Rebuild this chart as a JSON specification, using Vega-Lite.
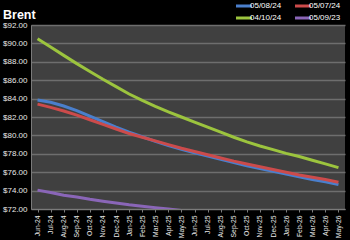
{
  "$schema": "https://vega.github.io/schema/vega-lite/v6.json",
  "width": 314,
  "height": 184,
  "autosize": {"type": "none"},
  "padding": {"left": 31, "top": 25, "right": 5, "bottom": 31},
  "background": "#000000",
  "title": {"text": "Brent", "anchor": "start", "frame": "group", "dx": -28, "dy": 37, "offset": 8, "baseline": "alphabetic", "color": "#ffffff", "font": "Liberation Sans", "fontSize": 12.5, "fontWeight": "bold"},
  "config": {
    "view": {"fill": "#404040", "stroke": null},
    "axis": {"labelFont": "Liberation Sans", "labelColor": "#e8e8e8", "domainColor": "#7a7a7a", "gridColor": "#6e6e6e", "gridWidth": 1.5, "tickColor": "#7a7a7a"}
  },
  "data": {"values": [
    {"month":"Jun-24","series":"05/08/24","price":83.85},{"month":"Jul-24","series":"05/08/24","price":83.6},{"month":"Aug-24","series":"05/08/24","price":83.2},{"month":"Sep-24","series":"05/08/24","price":82.7},{"month":"Oct-24","series":"05/08/24","price":82.1},{"month":"Nov-24","series":"05/08/24","price":81.5},{"month":"Dec-24","series":"05/08/24","price":80.9},{"month":"Jan-25","series":"05/08/24","price":80.35},{"month":"Feb-25","series":"05/08/24","price":79.85},{"month":"Mar-25","series":"05/08/24","price":79.35},{"month":"Apr-25","series":"05/08/24","price":78.9},{"month":"May-25","series":"05/08/24","price":78.5},{"month":"Jun-25","series":"05/08/24","price":78.1},{"month":"Jul-25","series":"05/08/24","price":77.75},{"month":"Aug-25","series":"05/08/24","price":77.4},{"month":"Sep-25","series":"05/08/24","price":77.05},{"month":"Oct-25","series":"05/08/24","price":76.7},{"month":"Nov-25","series":"05/08/24","price":76.4},{"month":"Dec-25","series":"05/08/24","price":76.1},{"month":"Jan-26","series":"05/08/24","price":75.8},{"month":"Feb-26","series":"05/08/24","price":75.5},{"month":"Mar-26","series":"05/08/24","price":75.2},{"month":"Apr-26","series":"05/08/24","price":74.95},{"month":"May-26","series":"05/08/24","price":74.65},
    {"month":"Jun-24","series":"05/07/24","price":83.4},{"month":"Jul-24","series":"05/07/24","price":83.05},{"month":"Aug-24","series":"05/07/24","price":82.65},{"month":"Sep-24","series":"05/07/24","price":82.2},{"month":"Oct-24","series":"05/07/24","price":81.7},{"month":"Nov-24","series":"05/07/24","price":81.2},{"month":"Dec-24","series":"05/07/24","price":80.7},{"month":"Jan-25","series":"05/07/24","price":80.2},{"month":"Feb-25","series":"05/07/24","price":79.8},{"month":"Mar-25","series":"05/07/24","price":79.4},{"month":"Apr-25","series":"05/07/24","price":79.0},{"month":"May-25","series":"05/07/24","price":78.6},{"month":"Jun-25","series":"05/07/24","price":78.25},{"month":"Jul-25","series":"05/07/24","price":77.9},{"month":"Aug-25","series":"05/07/24","price":77.55},{"month":"Sep-25","series":"05/07/24","price":77.2},{"month":"Oct-25","series":"05/07/24","price":76.9},{"month":"Nov-25","series":"05/07/24","price":76.6},{"month":"Dec-25","series":"05/07/24","price":76.3},{"month":"Jan-26","series":"05/07/24","price":76.0},{"month":"Feb-26","series":"05/07/24","price":75.7},{"month":"Mar-26","series":"05/07/24","price":75.45},{"month":"Apr-26","series":"05/07/24","price":75.2},{"month":"May-26","series":"05/07/24","price":74.9},
    {"month":"Jun-24","series":"04/10/24","price":90.5},{"month":"Jul-24","series":"04/10/24","price":89.6},{"month":"Aug-24","series":"04/10/24","price":88.7},{"month":"Sep-24","series":"04/10/24","price":87.8},{"month":"Oct-24","series":"04/10/24","price":86.95},{"month":"Nov-24","series":"04/10/24","price":86.1},{"month":"Dec-24","series":"04/10/24","price":85.3},{"month":"Jan-25","series":"04/10/24","price":84.5},{"month":"Feb-25","series":"04/10/24","price":83.8},{"month":"Mar-25","series":"04/10/24","price":83.15},{"month":"Apr-25","series":"04/10/24","price":82.55},{"month":"May-25","series":"04/10/24","price":82.0},{"month":"Jun-25","series":"04/10/24","price":81.45},{"month":"Jul-25","series":"04/10/24","price":80.9},{"month":"Aug-25","series":"04/10/24","price":80.35},{"month":"Sep-25","series":"04/10/24","price":79.8},{"month":"Oct-25","series":"04/10/24","price":79.3},{"month":"Nov-25","series":"04/10/24","price":78.85},{"month":"Dec-25","series":"04/10/24","price":78.45},{"month":"Jan-26","series":"04/10/24","price":78.05},{"month":"Feb-26","series":"04/10/24","price":77.7},{"month":"Mar-26","series":"04/10/24","price":77.3},{"month":"Apr-26","series":"04/10/24","price":76.9},{"month":"May-26","series":"04/10/24","price":76.5},
    {"month":"Jun-24","series":"05/09/23","price":74.05},{"month":"Jul-24","series":"05/09/23","price":73.8},{"month":"Aug-24","series":"05/09/23","price":73.5},{"month":"Sep-24","series":"05/09/23","price":73.3},{"month":"Oct-24","series":"05/09/23","price":73.05},{"month":"Nov-24","series":"05/09/23","price":72.85},{"month":"Dec-24","series":"05/09/23","price":72.65},{"month":"Jan-25","series":"05/09/23","price":72.45},{"month":"Feb-25","series":"05/09/23","price":72.3},{"month":"Mar-25","series":"05/09/23","price":72.15},{"month":"Apr-25","series":"05/09/23","price":72.0},{"month":"May-25","series":"05/09/23","price":71.85},{"month":"Jun-25","series":"05/09/23","price":71.7}
  ]},
  "mark": {"type": "line", "strokeWidth": 3, "clip": true},
  "encoding": {
    "x": {"field": "month", "type": "ordinal", "sort": null, "scale": {"type": "point", "padding": 0.5},
      "axis": {"title": null, "labelAngle": -90, "labelFontSize": 6.8, "labelPadding": 3, "tickSize": 3, "grid": false, "labelAlign": "right", "labelBaseline": "middle"}},
    "y": {"field": "price", "type": "quantitative", "scale": {"domain": [72, 92], "nice": false, "zero": false},
      "axis": {"title": null, "format": "$.2f", "values": [72,74,76,78,80,82,84,86,88,90,92], "labelFontSize": 8, "tickSize": 0, "labelPadding": 4, "grid": true}},
    "color": {"field": "series", "type": "nominal",
      "scale": {"domain": ["05/08/24", "05/07/24", "04/10/24", "05/09/23"], "range": ["#4a7fcc", "#cc4b4b", "#9cc43e", "#8a66b8"]},
      "legend": {"title": null, "orient": "none", "legendX": 209, "legendY": -23, "direction": "horizontal", "columns": 2, "columnPadding": 7, "rowPadding": 0, "symbolType": "M-4,0H4", "symbolSize": 16, "symbolStrokeWidth": 3, "labelColor": "#ffffff", "labelFont": "Liberation Sans", "labelFontSize": 8, "labelOffset": 2}}
  }
}
